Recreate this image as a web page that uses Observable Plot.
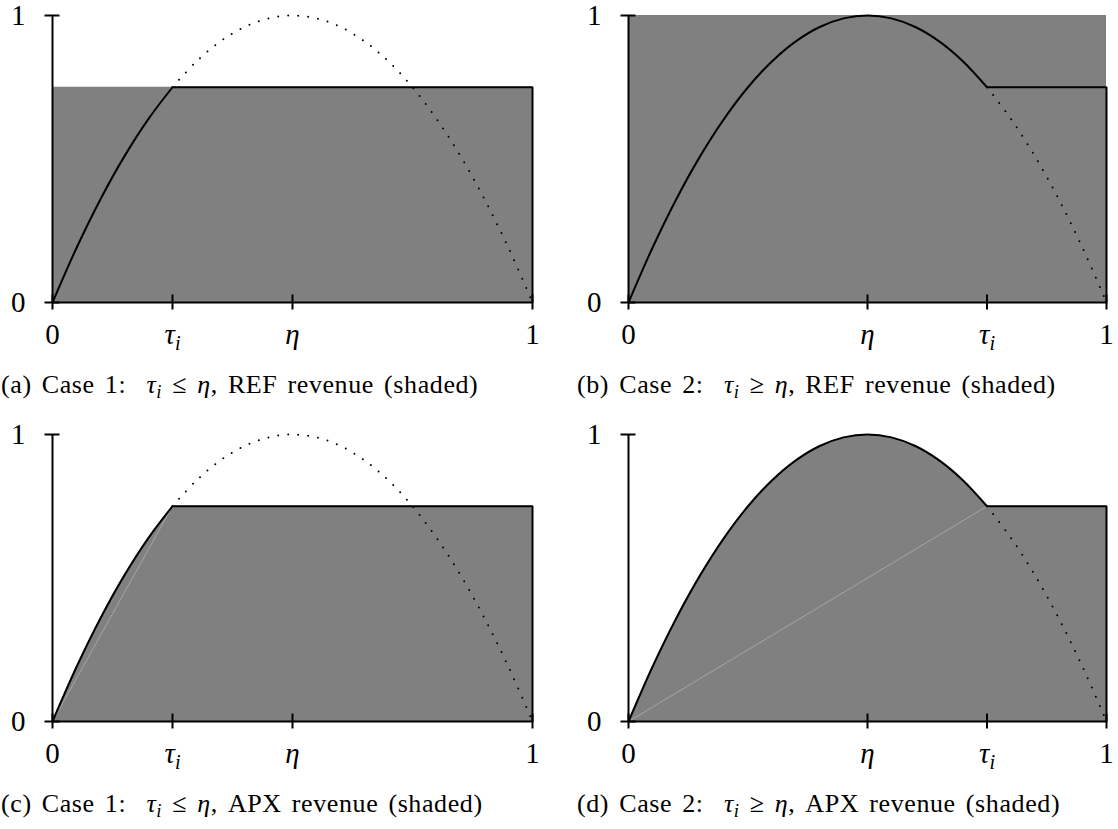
<!DOCTYPE html>
<html><head><meta charset="utf-8">
<script src="https://cdn.jsdelivr.net/npm/d3@7"></script>
<script src="https://cdn.jsdelivr.net/npm/@observablehq/plot@0.6"></script>
<style>
body{margin:0;background:#fff;}
#wrap{position:relative;width:1118px;height:829px;font-family:"Liberation Serif",serif;color:#000;}
.panel{position:absolute;}
.panel svg{overflow:visible;}
.cap{position:absolute;font-size:26px;line-height:1;white-space:nowrap;word-spacing:3px;letter-spacing:0.6px;}
.cap sub{font-size:0.72em;vertical-align:-0.28em;line-height:0;}
</style></head><body><div id="wrap"></div>
<script>
// ---- data ----
// revenue curve (peak at eta)
const curveX = [0,0.05,0.1,0.15,0.2,0.25,0.3,0.35,0.4,0.45,0.5,0.55,0.6,0.65,0.7,0.75,0.8,0.85,0.9,0.95,1];
const curveY = [0,0.19,0.36,0.51,0.64,0.75,0.84,0.91,0.96,0.99,1,0.99,0.96,0.91,0.84,0.75,0.64,0.51,0.36,0.19,0];
const eta = 0.5;
const tauCase1 = 0.25;
const tauCase2 = 0.75;
const plateauCase1 = 0.75;   // curve value at tau, case 1
const plateauCase2 = 0.75;   // curve value at tau, case 2
const refLevelCase1 = 0.75;  // REF shaded height, case 1
const refLevelCase2 = 1;     // REF shaded height, case 2
const xDomain = [0, 1];
const yDomain = [0, 1];
const yTicks = [0, 1];
const yTickLabels = ["0", "1"];
const xTicksCase1 = [0, tauCase1, eta, 1];
const xTickLabelsCase1 = ["0", "τi", "η", "1"];
const xTicksCase2 = [0, eta, tauCase2, 1];
const xTickLabelsCase2 = ["0", "η", "τi", "1"];
const captions = [
  '(a) Case 1:&nbsp; <i>τ<sub>i</sub></i> ≤ <i>η</i>, REF revenue (shaded)',
  '(b) Case 2:&nbsp; <i>τ<sub>i</sub></i> ≥ <i>η</i>, REF revenue (shaded)',
  '(c) Case 1:&nbsp; <i>τ<sub>i</sub></i> ≤ <i>η</i>, APX revenue (shaded)',
  '(d) Case 2:&nbsp; <i>τ<sub>i</sub></i> ≥ <i>η</i>, APX revenue (shaded)'
];

// ---- layout ----
const cols = [{left: 0, width: 559, mr: 27}, {left: 576, width: 542, mr: 12}];
const rows = [{top: 0, capTop: 372}, {top: 419, capTop: 791}];
const H = 350, MT = 15, MB = 48, ML = 52;

const panels = [
  {tau: tauCase1, plateau: plateauCase1, ref: refLevelCase1, shade: "ref", col: 0, row: 0, ticks: xTicksCase1, labels: xTickLabelsCase1},
  {tau: tauCase2, plateau: plateauCase2, ref: refLevelCase2, shade: "ref", col: 1, row: 0, ticks: xTicksCase2, labels: xTickLabelsCase2},
  {tau: tauCase1, plateau: plateauCase1, ref: refLevelCase1, shade: "apx", col: 0, row: 1, ticks: xTicksCase1, labels: xTickLabelsCase1},
  {tau: tauCase2, plateau: plateauCase2, ref: refLevelCase2, shade: "apx", col: 1, row: 1, ticks: xTicksCase2, labels: xTickLabelsCase2}
];

const wrap = document.getElementById("wrap");
const pts = curveX.map((x, i) => ({x, y: curveY[i]}));
const FONT = "Liberation Serif";

panels.forEach((p, k) => {
  const c = cols[p.col], r = rows[p.row];
  const solid = pts.filter(d => d.x <= p.tau);
  const dotted = pts.filter(d => d.x >= p.tau);
  const flat = [{x: p.tau, y: p.plateau}, {x: xDomain[1], y: p.plateau}, {x: xDomain[1], y: yDomain[0]}];
  const labelMap = new Map(p.ticks.map((t, i) => [t, p.labels[i]]));
  const marks = [];
  if (p.shade === "ref") {
    marks.push(Plot.areaY(xDomain.map(x => ({x, y: p.ref})), {x: "x", y: "y", fill: "#808080"}));
  } else {
    marks.push(Plot.areaY(solid.concat([{x: xDomain[1], y: p.plateau}]), {x: "x", y: "y", fill: "#808080"}));
    marks.push(Plot.line([{x: xDomain[0], y: yDomain[0]}, {x: p.tau, y: p.plateau}], {x: "x", y: "y", stroke: "#b4b4b4", strokeWidth: 0.7}));
  }
  marks.push(
    Plot.line(dotted, {x: "x", y: "y", curve: "catmull-rom", stroke: "#000", strokeWidth: 2, strokeDasharray: "0 10", strokeLinecap: "round"}),
    Plot.line(solid, {x: "x", y: "y", curve: "catmull-rom", stroke: "#000", strokeWidth: 2}),
    Plot.line(flat, {x: "x", y: "y", stroke: "#000", strokeWidth: 2, strokeLinejoin: "miter"}),
    // axis lines
    Plot.ruleY([yDomain[0]], {x1: xDomain[0], x2: xDomain[1], stroke: "#000", strokeWidth: 2}),
    Plot.ruleX([xDomain[0]], {y1: yDomain[0], y2: yDomain[1], stroke: "#000", strokeWidth: 2}),
    // centred tick marks
    Plot.ruleX(p.ticks, {x: d => d, y1: yDomain[0], y2: yDomain[0], insetTop: -7.5, insetBottom: -7.5, stroke: "#000", strokeWidth: 2}),
    Plot.ruleY(yTicks, {y: d => d, x1: xDomain[0], x2: xDomain[0], insetLeft: -7.5, insetRight: -7.5, stroke: "#000", strokeWidth: 2}),
    Plot.axisX(p.ticks, {tickSize: 0, tickPadding: 21, tickFormat: d => labelMap.get(d), fontSize: 29, fontFamily: FONT, label: null}),
    Plot.axisY(yTicks, {tickSize: 0, tickPadding: 27, tickFormat: d => yTickLabels[yTicks.indexOf(d)], fontSize: 29, fontFamily: FONT, label: null})
  );
  const svg = Plot.plot({
    width: c.width, height: H,
    marginLeft: ML, marginRight: c.mr, marginTop: MT, marginBottom: MB,
    x: {domain: xDomain}, y: {domain: yDomain},
    style: {fontFamily: "'Liberation Serif', serif", background: "transparent", overflow: "visible"},
    marks
  });
  // subscript / italic for math tick labels
  svg.querySelectorAll("text").forEach(t => {
    t.style.fontFamily = "'Liberation Serif', serif";
    const s = t.textContent;
    if (s === "τi") {
      t.textContent = "τ";
      t.setAttribute("font-style", "italic");
      const ts = document.createElementNS("http://www.w3.org/2000/svg", "tspan");
      ts.textContent = "i";
      ts.setAttribute("font-size", "0.7em");
      ts.setAttribute("dy", "0.3em");
      t.appendChild(ts);
    } else if (s === "η") {
      t.setAttribute("font-style", "italic");
    }
  });
  const div = document.createElement("div");
  div.className = "panel";
  div.style.left = c.left + "px";
  div.style.top = r.top + "px";
  div.appendChild(svg);
  wrap.appendChild(div);
  const cap = document.createElement("div");
  cap.className = "cap";
  cap.style.left = (c.left + 1) + "px";
  cap.style.top = r.capTop + "px";
  cap.innerHTML = captions[k];
  wrap.appendChild(cap);
});
</script>
</body></html>
